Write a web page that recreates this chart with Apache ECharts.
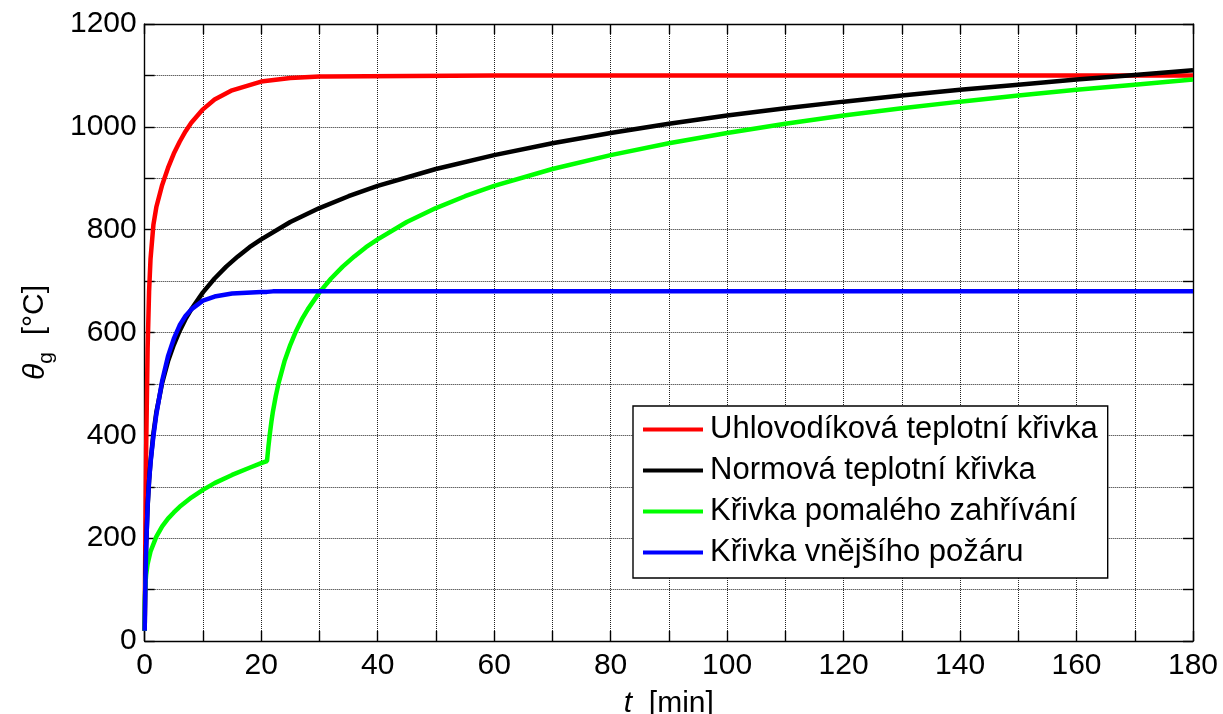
<!DOCTYPE html>
<html>
<head>
<meta charset="utf-8">
<script src="https://cdn.jsdelivr.net/npm/echarts@6/dist/echarts.min.js"></script>
<style>html,body{margin:0;padding:0;background:#fff;}#c{width:1223px;height:714px;}</style>
</head>
<body>
<div id="c"></div>
<script>
// ---- data ----
const seriesNames = ['Uhlovodíková teplotní křivka', 'Normová teplotní křivka', 'Křivka pomalého zahřívání', 'Křivka vnějšího požáru'];

const tRed = [0, 0.05, 0.1, 0.25, 0.5, 0.75, 1, 1.5, 2, 3, 4, 5, 6, 7, 8, 10, 12, 15, 20, 25, 30, 31.1, 31.2, 60, 100, 140, 180];
const vRed = [20, 109, 187, 373, 568, 679, 743, 810, 844, 887, 920, 948, 971, 991, 1008, 1034, 1053, 1071, 1088, 1095, 1098, 1098, 1100, 1100, 1100, 1100, 1100];

const tBlack = [0, 0.1, 0.25, 0.5, 0.75, 1, 1.5, 2, 3, 4, 5, 6, 7, 8, 10, 12, 14, 16, 18, 20, 25, 30, 35, 40, 50, 60, 70, 80, 90, 100, 110, 120, 130, 140, 150, 160, 170, 180];
const vBlack = [20, 108, 185, 261, 312, 349, 404, 445, 502, 544, 576, 603, 626, 645, 678, 705, 728, 748, 766, 781, 815, 842, 865, 885, 918, 945, 968, 988, 1006, 1022, 1036, 1049, 1061, 1072, 1082, 1092, 1101, 1110];

const tGreen = [0, 0.02, 0.1, 0.25, 0.5, 1, 2, 3, 4, 5, 6, 8, 10, 12, 15, 18, 20, 21, 21.25, 21.5, 21.75, 22, 22.5, 23, 24, 25, 26, 27, 28, 30, 32, 34, 36, 38, 40, 45, 50, 55, 60, 70, 80, 90, 100, 110, 120, 130, 140, 150, 160, 170, 180];
const vGreen = [20, 78, 107, 129, 150, 174, 203, 223, 238, 250, 261, 279, 294, 307, 323, 337, 346, 350, 379, 404, 426, 445, 476, 502, 544, 576, 603, 626, 645, 678, 705, 728, 748, 766, 781, 815, 842, 865, 885, 918, 945, 968, 988, 1006, 1022, 1036, 1049, 1061, 1072, 1082, 1092];

const tBlue = [0, 0.05, 0.1, 0.25, 0.5, 0.75, 1, 1.5, 2, 3, 4, 5, 6, 7, 8, 10, 12, 15, 20, 21, 22, 60, 120, 180];
const vBlue = [20, 63, 100, 182, 263, 311, 346, 399, 441, 506, 554, 588, 614, 632, 645, 662, 670, 676, 679, 679, 680, 680, 680, 680];

const xTicks = [0, 20, 40, 60, 80, 100, 120, 140, 160, 180];
const yTicks = [0, 200, 400, 600, 800, 1000, 1200];

// ---- chart ----
const pairs = (t, v) => t.map((x, i) => [x, v[i]]);
const colors = ['#ff0000', '#000000', '#00ff00', '#0000ff'];
const FONT = '"Liberation Sans", Arial, sans-serif';

const chart = echarts.init(document.getElementById('c'), null, {renderer: 'canvas'});

const gridLine = {show: true, lineStyle: {color: '#222', type: [1, 1], width: 1}};
const axLine = {show: true, onZero: false, lineStyle: {color: '#000', width: 1.4}};
const tick = {show: true, inside: true, length: 10, lineStyle: {color: '#000', width: 1.4}};

chart.setOption({
  animation: false,
  backgroundColor: '#fff',
  textStyle: {fontFamily: FONT},
  grid: {left: 144.7, right: 30, top: 24, bottom: 73, containLabel: false, outerBoundsMode: 'none'},
  legend: {
    left: 633, top: 406, orient: 'vertical',
    data: seriesNames.map((n) => ({name: n, icon: 'rect'})),
    itemWidth: 60, itemHeight: 4, itemGap: 10,
    padding: [8, 10, 10, 10],
    borderColor: '#000', borderWidth: 1.4, backgroundColor: '#fff',
    textStyle: {fontFamily: FONT, fontSize: 31, lineHeight: 30, color: '#000', padding: [0, 0, 0, 2]}
  },
  xAxis: [{
    type: 'value', min: 0, max: 180, interval: 10,
    name: '{i|t}  [min]', nameLocation: 'middle', nameGap: 48,
    nameTextStyle: {fontFamily: FONT, fontSize: 30, color: '#000',
      rich: {i: {fontFamily: FONT, fontSize: 30, fontStyle: 'italic', color: '#000'}}},
    axisLine: axLine, axisTick: tick, splitLine: gridLine,
    axisLabel: {fontFamily: FONT, fontSize: 30, color: '#000', margin: 10,
      formatter: (v) => xTicks.indexOf(v) >= 0 ? String(v) : ''}
  }, {
    type: 'value', position: 'top', min: 0, max: 180, interval: 10,
    axisLine: axLine, axisTick: tick, splitLine: {show: false}, axisLabel: {show: false}
  }],
  yAxis: [{
    type: 'value', min: 0, max: 1200, interval: 100,
    name: '{i|θ}{s|g}  [°C]', nameLocation: 'middle', nameGap: 88, nameRotate: 90,
    nameTextStyle: {fontFamily: FONT, fontSize: 30, color: '#000',
      rich: {
        i: {fontFamily: FONT, fontSize: 30, fontStyle: 'italic', color: '#000'},
        s: {fontFamily: FONT, fontSize: 21, color: '#000', padding: [22, 0, 0, 0]}
      }},
    axisLine: axLine, axisTick: tick, splitLine: gridLine,
    axisLabel: {fontFamily: FONT, fontSize: 30, color: '#000', margin: 8,
      formatter: (v) => yTicks.indexOf(v) >= 0 ? String(v) : ''}
  }, {
    type: 'value', position: 'right', min: 0, max: 1200, interval: 100,
    axisLine: axLine, axisTick: tick, splitLine: {show: false}, axisLabel: {show: false}
  }],
  series: [
    {name: seriesNames[0], data: pairs(tRed, vRed)},
    {name: seriesNames[1], data: pairs(tBlack, vBlack)},
    {name: seriesNames[2], data: pairs(tGreen, vGreen)},
    {name: seriesNames[3], data: pairs(tBlue, vBlue)}
  ].map((s, i) => Object.assign(s, {
    type: 'line', xAxisIndex: 0, yAxisIndex: 0, showSymbol: false, symbol: 'none',
    color: colors[i], itemStyle: {color: colors[i]},
    lineStyle: {color: colors[i], width: 4.5}, z: 3 + i
  }))
});
</script>
</body>
</html>
